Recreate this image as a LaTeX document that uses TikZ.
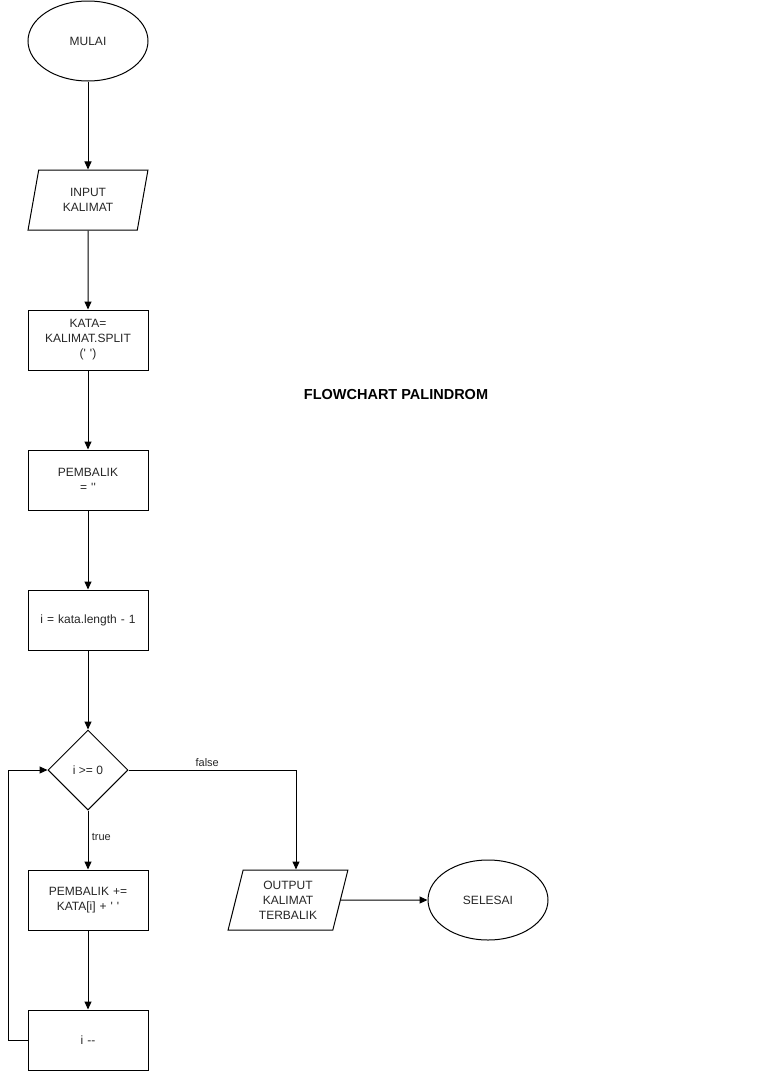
\documentclass[tikz,border=0pt]{standalone}
\usepackage{fontspec}
\setmainfont{Liberation Sans}[Ligatures=TeXOff]
\usetikzlibrary{shapes.geometric,arrows.meta}
\begin{document}
\begin{tikzpicture}[x=1pt,y=-1pt,
  every node/.style={font=\fontsize{12}{15}\selectfont, align=center, text=black!85},
  base/.style={draw, line width=1pt, inner sep=2pt},
  term/.style={base, ellipse, minimum width=120pt, minimum height=80pt},
  proc/.style={base, rectangle, minimum width=120pt, minimum height=60pt, text width=110pt},
  io/.style={base, trapezium, trapezium left angle=71.57, trapezium right angle=108.43, trapezium stretches=true, minimum width=120pt, minimum height=60pt, text width=80pt},
  dec/.style={base, diamond, minimum width=80pt, minimum height=80pt, inner sep=0pt},
  arr/.style={line width=1pt, -{Stealth[length=8pt,width=7pt,inset=0pt]}},
  lbl/.style={font=\fontsize{11}{13}\selectfont}
]
\useasboundingbox (0,0) rectangle (758,1071);
\node[term] (start) at (88,41) {MULAI};
\node[io] (input) at (88,200) {INPUT\\KALIMAT};
\node[proc] (kata) at (88,340) {KATA=\\KALIMAT.SPLIT\\(' ')};
\node[proc] (pemb) at (88,480) {PEMBALIK\\= ''};
\node[proc] (init) at (88,620) {i = kata.length - 1};
\node[dec] (cond) at (88,770) {i >= 0};
\node[proc] (add) at (88,900) {PEMBALIK +=\\KATA[i] + ' '};
\node[proc] (decr) at (88,1040) {i --};
\node[io] (out) at (288,900) {OUTPUT\\KALIMAT\\TERBALIK};
\node[term] (end) at (488,900) {SELESAI};
\node[font=\fontsize{14.5}{17}\selectfont\bfseries, text=black] (title) at (396,395) {FLOWCHART PALINDROM};
\coordinate (fk) at (296,770);
\coordinate (lp) at (8,1040);
\draw[arr] (start) -- (input);
\draw[arr] (input) -- (kata);
\draw[arr] (kata) -- (pemb);
\draw[arr] (pemb) -- (init);
\draw[arr] (init) -- (cond);
\draw[arr] (cond) -- node[lbl, right, pos=0.45] {true} (add);
\draw[arr] (add) -- (decr);
\draw[arr] (decr.west) -- (lp) |- (cond.west);
\draw[arr] (cond.east) -- node[lbl, above, pos=0.47] {false} (fk) -- (fk |- out.north);
\draw[arr] (out.east) -- (end.west);
\end{tikzpicture}
\end{document}
